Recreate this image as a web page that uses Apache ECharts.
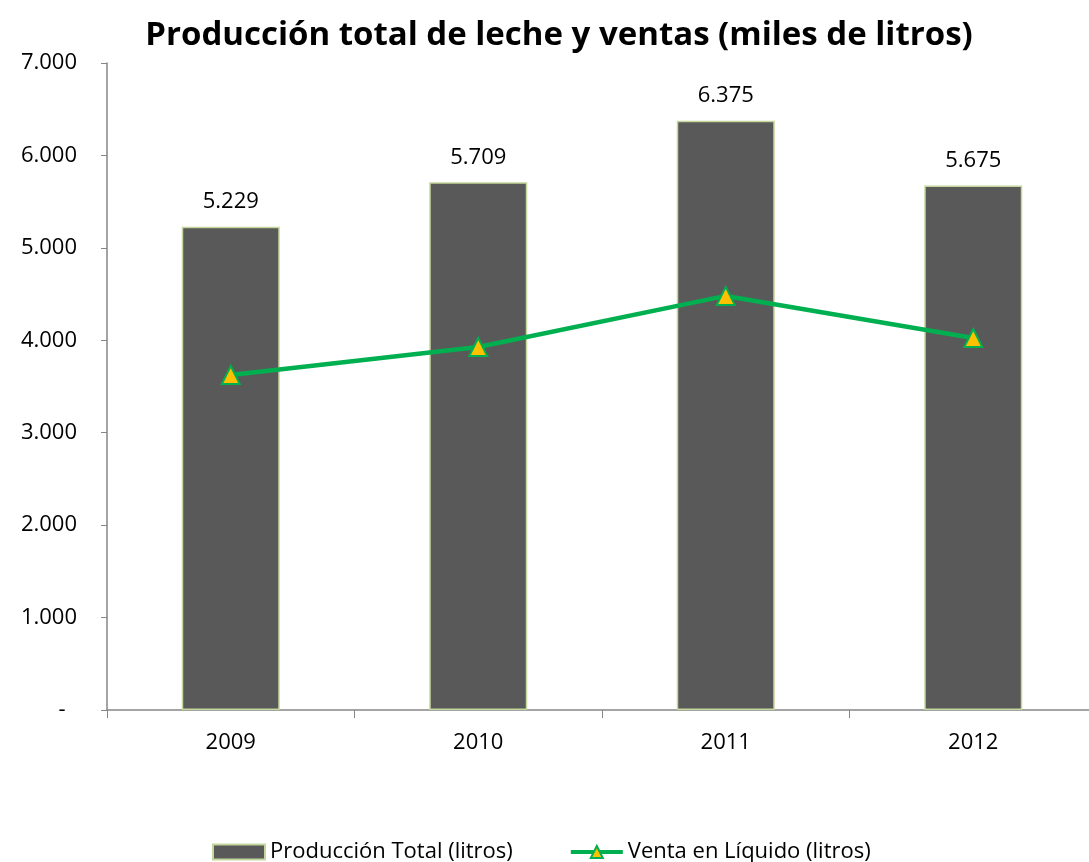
<!DOCTYPE html>
<html>
<head>
<meta charset="utf-8">
<script src="https://cdn.jsdelivr.net/npm/echarts@6/dist/echarts.min.js"></script>
<style>
  html, body { margin: 0; padding: 0; background: #fff; }
  #main { width: 1089px; height: 862px; }
</style>
</head>
<body>
<div id="main"></div>
<script>
var years = ["2009", "2010", "2011", "2012"];
var produccion = [5229, 5709, 6375, 5675];
var ventaLiquido = [3625, 3927, 4480, 4025];

var font = "Open Sans";

// 7000 -> "7.000", 0 -> "-"
function fmt(v){
    if(v == 0) return "-  ";
    return String(v).replace(/\B(?=(\d{3})+(?!\d))/g, ".");
}

var myChart = echarts.init(document.getElementById("main"));
myChart.setOption({
    backgroundColor: "#fff",
    textStyle: {fontFamily: font},
    title: {
        text: "Producción total de leche y ventas (miles de litros)",
        left: 554,
        textAlign: "center",
        top: 14,
        textStyle: {fontSize: 33, fontWeight: "bold", color: "#000", fontFamily: font}
    },
    legend: {
        top: 836,
        left: 207,
        itemGap: 56,
        itemWidth: 52,
        itemHeight: 15,
        textStyle: {fontSize: 22, color: "#000", fontFamily: font},
        data: [
            {name: "Producción Total (litros)", icon: "rect"},
            {name: "Venta en Líquido (litros)", lineStyle: {width: 4, color: "#00b050"}}
        ]
    },
    grid: {left: 107, width: 990, top: 63, height: 647, containLabel: false, outerBoundsMode: "none"},
    xAxis: {
        type: "category",
        data: years,
        axisLine: {lineStyle: {color: "#868686", width: 1.5}},
        axisTick: {show: true, length: 8, alignWithLabel: false, lineStyle: {color: "#868686"}},
        axisLabel: {fontSize: 22, color: "#000", margin: 22, fontFamily: font}
    },
    yAxis: {
        type: "value",
        min: 0,
        max: 7000,
        interval: 1000,
        splitLine: {show: false},
        axisLine: {show: true, lineStyle: {color: "#868686", width: 1.5}},
        axisTick: {show: true, length: 6, lineStyle: {color: "#868686"}},
        axisLabel: {fontSize: 22, color: "#000", margin: 30, fontFamily: font, formatter: fmt}
    },
    series: [
        {
            name: "Producción Total (litros)",
            type: "bar",
            data: produccion,
            barWidth: 98,
            itemStyle: {color: "#595959", borderColor: "#c3d69b", borderWidth: 1.5},
            label: {
                show: true,
                position: "top",
                distance: 14,
                fontSize: 22,
                color: "#000",
                fontFamily: font,
                formatter: function(p){ return fmt(p.value); }
            }
        },
        {
            name: "Venta en Líquido (litros)",
            type: "line",
            data: ventaLiquido,
            symbol: "triangle",
            symbolSize: 18,
            lineStyle: {color: "#00b050", width: 4.5},
            itemStyle: {color: "#ffc000", borderColor: "#00b050", borderWidth: 2}
        }
    ]
});
</script>
</body>
</html>
